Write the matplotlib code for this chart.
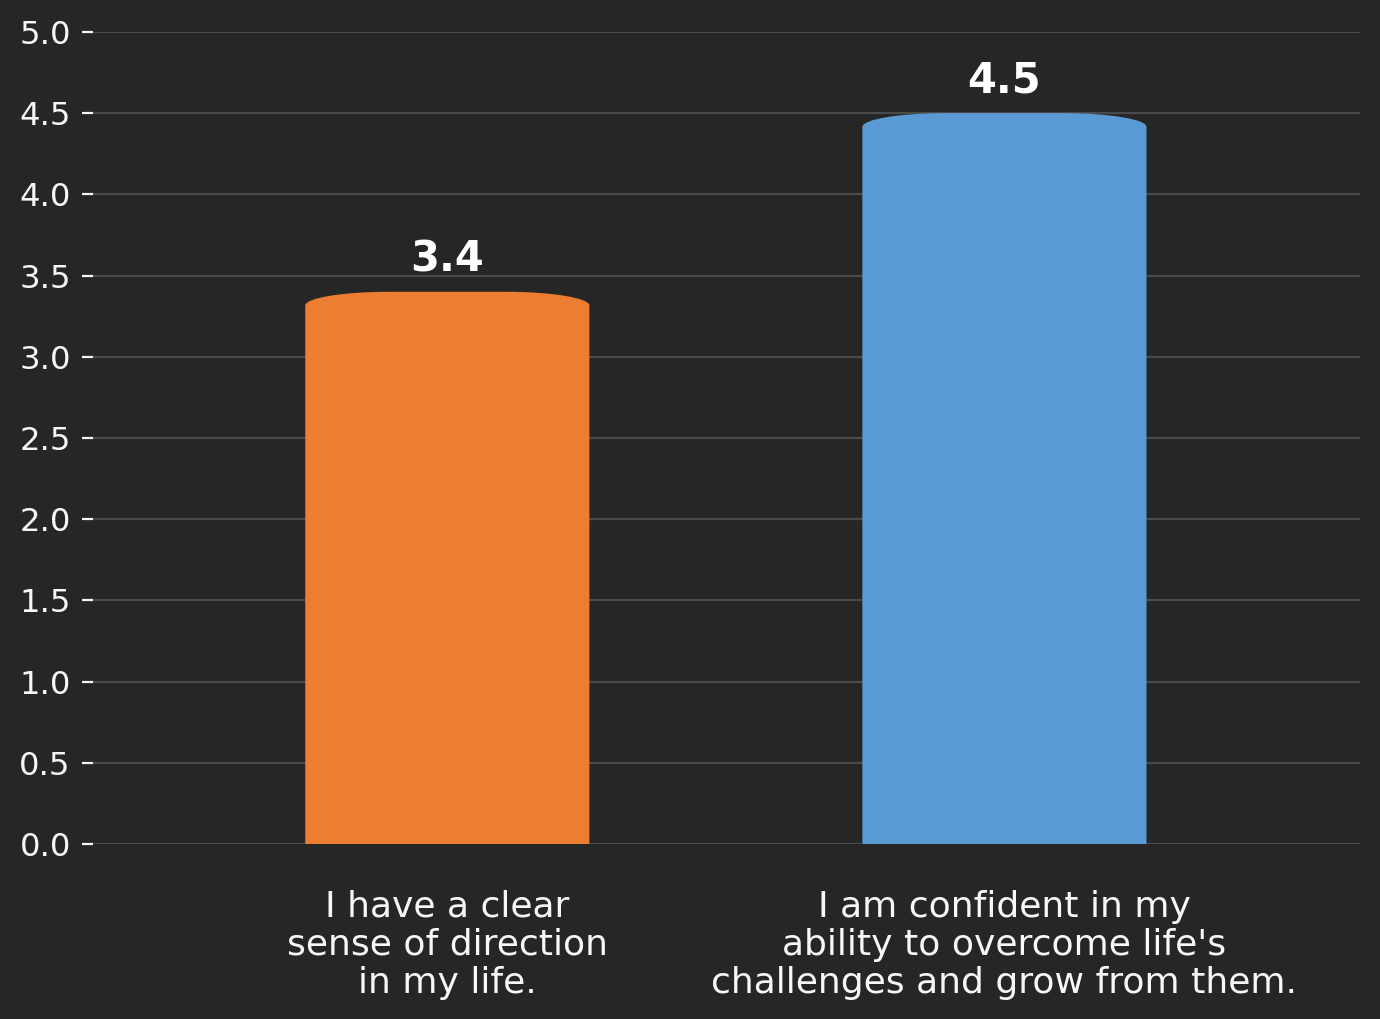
import matplotlib
matplotlib.use("Agg")
import matplotlib.pyplot as plt
from matplotlib.path import Path
from matplotlib.patches import PathPatch

categories = ["I have a clear\nsense of direction\nin my life.",
              "I am confident in my\nability to overcome life's\nchallenges and grow from them."]
values = [3.4, 4.5]
colors = ["#ED7D31", "#5B9BD5"]
yticks = [0.0, 0.5, 1.0, 1.5, 2.0, 2.5, 3.0, 3.5, 4.0, 4.5, 5.0]

BG = "#262626"
TXT = "#f7f7f7"


def rounded_top(x0, w, h, rx, ry):
    """bar outline with elliptical top corners (data coords)"""
    k = 0.5523
    x1 = x0 + w
    verts = [
        (x0, 0), (x0, h - ry),
        (x0, h - ry + k * ry), (x0 + rx - k * rx, h), (x0 + rx, h),
        (x1 - rx, h),
        (x1 - rx + k * rx, h), (x1, h - ry + k * ry), (x1, h - ry),
        (x1, 0), (x0, 0),
    ]
    codes = [Path.MOVETO, Path.LINETO,
             Path.CURVE4, Path.CURVE4, Path.CURVE4,
             Path.LINETO,
             Path.CURVE4, Path.CURVE4, Path.CURVE4,
             Path.LINETO, Path.CLOSEPOLY]
    return Path(verts, codes)


fig = plt.figure(figsize=(6.9, 5.095), dpi=200, facecolor=BG)
ax = fig.add_axes([0.0674, 0.1717, 0.918, 0.797], facecolor=BG)

bars = ax.bar(range(len(values)), values, width=0.51, color=colors)
for b, c in zip(bars, colors):
    b.set_visible(False)
    p = rounded_top(b.get_x(), b.get_width(), b.get_height(), 0.15, 0.085)
    ax.add_patch(PathPatch(p, facecolor=c, edgecolor="none", zorder=3))

for i, v in enumerate(values):
    ax.annotate(f"{v:.1f}", (i, v), xytext=(0, 4), textcoords="offset points",
                ha="center", va="bottom", color="white", fontsize=15,
                fontweight="bold")

ax.set_xlim(-0.636, 1.638)
ax.set_ylim(0, 5)
ax.set_yticks(yticks)
ax.set_yticklabels([f"{t:.1f}" for t in yticks])
ax.set_xticks(range(len(categories)))
ax.set_xticklabels(categories, linespacing=1.15)
ax.yaxis.grid(True, color="#4a4a4a", linewidth=0.8, zorder=0)
ax.set_axisbelow(True)
for s in ax.spines.values():
    s.set_visible(False)
ax.tick_params(axis="y", colors=TXT, labelsize=11.6, length=4, width=0.8, pad=4)
ax.tick_params(axis="x", colors=TXT, labelsize=13, length=0, pad=16.5)

fig.savefig("out.png", dpi=200, facecolor=BG)
